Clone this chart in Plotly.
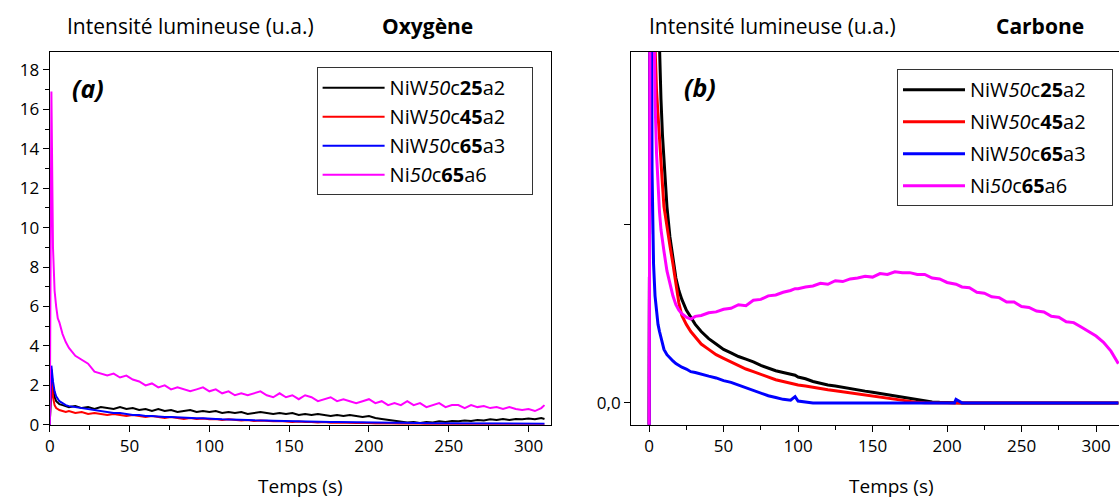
import plotly.graph_objects as go

# ---------------- Panel (a) : Oxygène ----------------
T_A = [0, 1, 2, 3, 4, 5, 6, 8, 10, 12, 16, 20, 24, 28, 32, 36, 40, 44, 48, 52, 56, 60,
       64, 68, 72, 76, 80, 84, 88, 92, 96, 100, 104, 108, 112, 116, 120, 124, 128, 132,
       136, 140, 144, 148, 152, 156, 160, 164, 168, 172, 176, 180, 184, 188, 192, 196,
       200, 204, 208, 212, 216, 220, 224, 228, 232, 236, 240, 244, 248, 252, 256, 260,
       264, 268, 272, 276, 280, 284, 288, 292, 296, 300, 304, 308, 310]

O_NIW25 = [0, 2.8, 1.8, 1.4, 1.2, 1.1, 1.05, 1.0, 0.95, 0.9, 0.95, 0.85, 0.9, 0.8, 0.9,
           0.85, 0.8, 0.9, 0.8, 0.85, 0.75, 0.8, 0.7, 0.8, 0.7, 0.75, 0.65, 0.7, 0.75,
           0.65, 0.7, 0.65, 0.7, 0.6, 0.65, 0.6, 0.65, 0.55, 0.6, 0.65, 0.6, 0.55, 0.6,
           0.55, 0.6, 0.5, 0.55, 0.5, 0.55, 0.5, 0.45, 0.5, 0.45, 0.5, 0.45, 0.4, 0.45,
           0.35, 0.3, 0.25, 0.2, 0.15, 0.12, 0.15, 0.1, 0.15, 0.12, 0.18, 0.15, 0.2, 0.18,
           0.22, 0.2, 0.25, 0.22, 0.28, 0.25, 0.3, 0.25, 0.3, 0.28, 0.32, 0.28, 0.35, 0.3]

O_NIW45 = [0, 2.5, 1.4, 1.0, 0.85, 0.8, 0.75, 0.7, 0.65, 0.7, 0.6, 0.65, 0.55, 0.6, 0.55,
           0.5, 0.55, 0.5, 0.45, 0.5, 0.45, 0.4, 0.45, 0.4, 0.35, 0.4, 0.35, 0.3, 0.35,
           0.3, 0.32, 0.28, 0.3, 0.25, 0.28, 0.25, 0.22, 0.25, 0.2, 0.22, 0.2, 0.18, 0.2,
           0.17, 0.15, 0.17, 0.14, 0.15, 0.12, 0.14, 0.11, 0.12, 0.1, 0.11, 0.09, 0.1,
           0.08, 0.07, 0.08, 0.06, 0.07, 0.05, 0.06, 0.04, 0.05, 0.04, 0.03, 0.04, 0.03,
           0.04, 0.02, 0.03, 0.02, 0.03, 0.02, 0.02, 0.01, 0.02, 0.01, 0.02, 0.01, 0.01,
           0.01, 0.0, 0.0]

O_NIW65 = [0, 3.0, 2.2, 1.7, 1.45, 1.3, 1.2, 1.1, 1.0, 0.95, 0.9, 0.85, 0.8, 0.75, 0.7,
           0.65, 0.6, 0.6, 0.55, 0.5, 0.5, 0.45, 0.45, 0.42, 0.4, 0.4, 0.38, 0.35, 0.36,
           0.33, 0.33, 0.3, 0.3, 0.28, 0.28, 0.26, 0.25, 0.25, 0.23, 0.24, 0.22, 0.21,
           0.2, 0.2, 0.19, 0.18, 0.18, 0.17, 0.16, 0.16, 0.15, 0.15, 0.14, 0.13, 0.13,
           0.12, 0.12, 0.11, 0.11, 0.1, 0.1, 0.1, 0.09, 0.09, 0.09, 0.08, 0.08, 0.08,
           0.08, 0.07, 0.07, 0.07, 0.07, 0.07, 0.06, 0.06, 0.06, 0.06, 0.06, 0.06, 0.06,
           0.06, 0.06, 0.06, 0.06]

O_NI65 = [0, 16.9, 9.0, 6.8, 6.0, 5.4, 5.2, 4.6, 4.2, 3.9, 3.5, 3.3, 3.1, 2.7, 2.6, 2.5,
          2.6, 2.4, 2.5, 2.3, 2.2, 2.0, 2.1, 1.9, 2.0, 1.8, 1.9, 1.8, 1.7, 1.8, 1.9, 1.7,
          1.8, 1.6, 1.7, 1.5, 1.6, 1.5, 1.6, 1.7, 1.5, 1.4, 1.6, 1.4, 1.5, 1.3, 1.5, 1.4,
          1.2, 1.3, 1.4, 1.2, 1.3, 1.2, 1.1, 1.2, 1.3, 1.1, 1.2, 1.0, 1.1, 1.0, 1.2, 1.0,
          1.1, 0.9, 1.0, 1.1, 0.9, 1.0, 1.0, 0.85, 1.0, 0.9, 0.95, 0.85, 0.9, 0.8, 0.9,
          0.8, 0.75, 0.8, 0.7, 0.85, 1.0]

# ---------------- Panel (b) : Carbone ----------------
T_B = [0, 1, 2, 3, 4, 5, 6, 7, 8, 9, 10, 12, 14, 16, 18, 20, 22, 25, 28, 31, 35, 40, 45,
       50, 55, 60, 65, 70, 75, 80, 85, 90, 95, 98, 100, 105, 110, 115, 120, 125, 130,
       135, 140, 145, 150, 155, 160, 165, 170, 175, 180, 185, 190, 195, 200, 205, 206,
       210, 215, 220, 225, 230, 235, 240, 245, 250, 255, 260, 265, 270, 275, 280, 285,
       290, 295, 300, 305, 310, 315]

C_NIW25 = [-0.5, 4, 4, 4, 3.5, 2.8, 2.3, 1.95, 1.7, 1.5, 1.38, 1.1, 0.93, 0.8, 0.7, 0.63,
           0.58, 0.52, 0.48, 0.44, 0.4, 0.36, 0.33, 0.3, 0.28, 0.26, 0.245, 0.23, 0.21,
           0.195, 0.18, 0.17, 0.16, 0.155, 0.145, 0.135, 0.12, 0.11, 0.1, 0.095, 0.087,
           0.08, 0.073, 0.066, 0.06, 0.053, 0.046, 0.038, 0.03, 0.022, 0.015, 0.009,
           0.005, 0.003, 0.001, 0, 0, 0, 0, 0, 0, 0, 0, 0, 0, 0, 0, 0, 0, 0, 0, 0, 0, 0,
           0, 0, 0, 0, 0]

C_NIW45 = [-0.5, 4, 3.2, 2.4, 2.0, 1.75, 1.6, 1.45, 1.35, 1.22, 1.1, 0.98, 0.88, 0.78,
           0.66, 0.56, 0.49, 0.44, 0.4, 0.37, 0.33, 0.3, 0.27, 0.25, 0.23, 0.21, 0.19,
           0.175, 0.16, 0.145, 0.13, 0.12, 0.11, 0.105, 0.1, 0.095, 0.087, 0.08, 0.074,
           0.068, 0.062, 0.057, 0.051, 0.045, 0.04, 0.034, 0.027, 0.02, 0.013, 0.007,
           0.003, 0.001, 0, 0, 0, 0, 0, 0, 0, 0, 0, 0, 0, 0, 0, 0, 0, 0, 0, 0, 0, 0, 0,
           0, 0, 0, 0, 0, 0]

C_NIW65 = [-0.5, 4, 1.3, 0.78, 0.6, 0.5, 0.44, 0.4, 0.36, 0.33, 0.3, 0.27, 0.25, 0.235,
           0.22, 0.21, 0.2, 0.19, 0.175, 0.17, 0.16, 0.15, 0.14, 0.125, 0.115, 0.1, 0.085,
           0.07, 0.055, 0.04, 0.03, 0.02, 0.015, 0.035, 0.01, 0.003, 0, 0, 0, 0, 0, 0, 0,
           0, 0, 0, 0, 0, 0, 0, 0, 0, 0, 0, 0, 0, 0.02, 0, 0, 0, 0, 0, 0, 0, 0, 0, 0, 0,
           0, 0, 0, 0, 0, 0, 0, 0, 0, 0, 0]

C_NI65 = [-0.5, 4, 3.0, 2.3, 1.7, 1.4, 1.2, 1.07, 0.97, 0.9, 0.85, 0.74, 0.66, 0.6, 0.55,
          0.52, 0.5, 0.48, 0.47, 0.485, 0.49, 0.505, 0.51, 0.525, 0.53, 0.55, 0.545,
          0.575, 0.58, 0.6, 0.605, 0.62, 0.63, 0.64, 0.64, 0.65, 0.655, 0.67, 0.665,
          0.685, 0.68, 0.695, 0.7, 0.71, 0.705, 0.725, 0.72, 0.735, 0.73, 0.73, 0.72,
          0.72, 0.7, 0.695, 0.675, 0.67, 0.665, 0.65, 0.645, 0.62, 0.615, 0.595, 0.59,
          0.565, 0.565, 0.54, 0.535, 0.515, 0.51, 0.485, 0.48, 0.455, 0.45, 0.425, 0.4,
          0.375, 0.34, 0.29, 0.22]

NB = "\u00a0"
NAMES = ["NiW<i>50</i>c<b>25</b>a2", "NiW<i>50</i>c<b>45</b>a2",
         "NiW<i>50</i>c<b>65</b>a3", "Ni<i>50</i>c<b>65</b>a6"]
COLORS = ["#000000", "#ff0000", "#0000ff", "#ff00ff"]
X_TICKS = [0, 50, 100, 150, 200, 250, 300]

W, H = 1119, 499          # reference picture size (positions below are in its pixels)
FIG_H = 511               # page height as captured by the screenshot


def px(x):
    return x / W


def py(y):
    return 1 - y / H


fig = go.Figure()

for name, col, ys in zip(NAMES, COLORS, [O_NIW25, O_NIW45, O_NIW65, O_NI65]):
    fig.add_trace(go.Scatter(x=T_A, y=ys, mode="lines", name=name + NB * 4,
                             line=dict(color=col, width=2), xaxis="x", yaxis="y",
                             legend="legend", legendgroup="a" + name))

for name, col, ys in zip(NAMES, COLORS, [C_NIW25, C_NIW45, C_NIW65, C_NI65]):
    fig.add_trace(go.Scatter(x=T_B, y=ys, mode="lines", name=name + NB * 4,
                             line=dict(color=col, width=3), xaxis="x2", yaxis="y2",
                             legend="legend2", legendgroup="b" + name))

FONT = "Open Sans"
axfont = dict(family=FONT, size=17, color="#000000")
dom_a_x = [px(45), px(548)]
dom_b_x = [px(629), 1.0]
dom_y = [py(424), py(52)]

common = dict(showline=True, linecolor="#000000", linewidth=1.2, showgrid=False,
              zeroline=False, ticks="outside", ticklen=6, tickcolor="#000000",
              tickfont=axfont)
inner = dict(showline=False, showgrid=False, zeroline=False, ticks="inside", ticklen=5,
             tickcolor="#000000", showticklabels=False)

fig.update_layout(
    width=W, height=FIG_H, margin=dict(l=0, r=0, t=0, b=0),
    plot_bgcolor="white", paper_bgcolor="white",
    font=dict(family=FONT, color="#000000"),
    xaxis=dict(domain=dom_a_x, range=[0, 313.8], tickvals=X_TICKS,
               minor=dict(dtick=25, tick0=0, ticks="outside", ticklen=4, tickcolor="#000000"),
               anchor="y", mirror=True, **common),
    yaxis=dict(domain=dom_y, range=[0, 18.9], dtick=2, tick0=0,
               minor=dict(dtick=1, tick0=0, ticks="outside", ticklen=4, tickcolor="#000000"),
               anchor="x", mirror=True, **common),
    xaxis2=dict(domain=dom_b_x, range=[-12, 315.4], tickvals=X_TICKS,
                minor=dict(dtick=25, tick0=0, ticks="outside", ticklen=4, tickcolor="#000000"),
                anchor="y2", mirror=True, **common),
    yaxis2=dict(domain=dom_y, range=[-0.123, 1.966], tickvals=[0, 1], ticktext=["0,0", ""],
                anchor="x2", **common),
    # inward ticks on the top / right frames
    xaxis3=dict(overlaying="x", matches="x", side="top", anchor="y", dtick=25, tick0=0, **inner),
    yaxis3=dict(overlaying="y", matches="y", side="right", anchor="x", dtick=1, tick0=0, **inner),
    xaxis4=dict(overlaying="x2", matches="x2", side="top", anchor="y2", dtick=25, tick0=0, **inner),
    legend=dict(x=px(313), y=py(67), xanchor="left", yanchor="top",
                bordercolor="#333333", borderwidth=1, bgcolor="white",
                font=dict(family=FONT, size=20, color="#000000"),
                itemwidth=62, tracegroupgap=0, traceorder="grouped"),
    legend2=dict(x=px(896), y=py(69), xanchor="left", yanchor="top",
                 bordercolor="#333333", borderwidth=1, bgcolor="white",
                 font=dict(family=FONT, size=20, color="#000000"),
                 itemwidth=62, tracegroupgap=3, traceorder="grouped"),
)

ann = [
    dict(text="Intensité lumineuse (u.a.)", x=px(60), y=py(26), xanchor="left", size=21),
    dict(text="<b>Oxygène</b>", x=px(424), y=py(26), xanchor="center", size=21),
    dict(text="Intensité lumineuse (u.a.)", x=px(645), y=py(26), xanchor="left", size=21),
    dict(text="<b>Carbone</b>", x=px(1040), y=py(26), xanchor="center", size=21),
    dict(text="Temps (s)", x=px(297), y=py(485), xanchor="center", size=19),
    dict(text="Temps (s)", x=px(890), y=py(485), xanchor="center", size=19),
    dict(text="<b><i>(a)</i></b>", x=px(83), y=py(88), xanchor="center", size=25),
    dict(text="<b><i>(b)</i></b>", x=px(698), y=py(87), xanchor="center", size=25),
]
for a in ann:
    fig.add_annotation(text=a["text"], x=a["x"], y=a["y"], xref="paper", yref="paper",
                       xanchor=a["xanchor"], yanchor="middle", showarrow=False,
                       font=dict(family=FONT, size=a["size"], color="#000000"))

PAGE_CSS = ("var s=document.documentElement.style;s.margin='0';s.padding='0';"
            "s.overflow='hidden';"
            "var b=document.body.style;b.margin='0';b.padding='0';b.overflow='hidden';")

fig.write_html("out.html", config={"displayModeBar": False}, post_script=PAGE_CSS)
